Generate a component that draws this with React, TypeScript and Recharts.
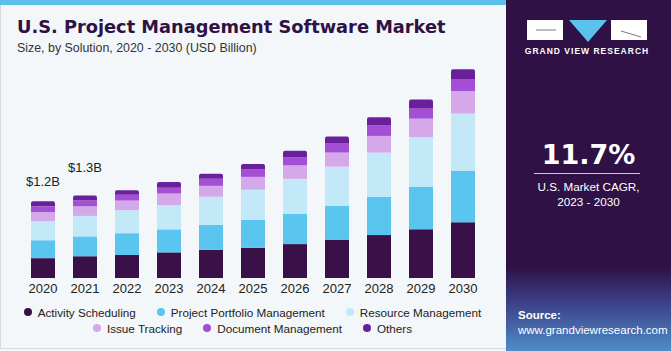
import React from 'react';
import { BarChart, Bar, XAxis, YAxis, Legend, LabelList } from 'recharts';

const years = ['2020', '2021', '2022', '2023', '2024', '2025', '2026', '2027', '2028', '2029', '2030'];

const activityScheduling = [0.31, 0.34, 0.36, 0.4, 0.44, 0.47, 0.53, 0.6, 0.67, 0.76, 0.87];
const projectPortfolio = [0.28, 0.31, 0.34, 0.36, 0.39, 0.44, 0.47, 0.53, 0.6, 0.66, 0.8];
const resourceManagement = [0.3, 0.32, 0.36, 0.38, 0.44, 0.47, 0.55, 0.61, 0.69, 0.78, 0.9];
const issueTracking = [0.14, 0.15, 0.15, 0.18, 0.17, 0.2, 0.21, 0.22, 0.26, 0.29, 0.35];
const documentManagement = [0.09, 0.09, 0.09, 0.09, 0.11, 0.12, 0.13, 0.15, 0.17, 0.16, 0.19];
const others = [0.08, 0.08, 0.07, 0.09, 0.08, 0.08, 0.1, 0.1, 0.12, 0.14, 0.15];

const totalLabels = ['$1.2B', '$1.3B'];
const labelLift = [15, 23];

const series = [
  { key: 'as', name: 'Activity Scheduling', color: '#3a1049' },
  { key: 'ppm', name: 'Project Portfolio Management', color: '#5ac6ef' },
  { key: 'rm', name: 'Resource Management', color: '#c3e9f9' },
  { key: 'it', name: 'Issue Tracking', color: '#d5a8ea' },
  { key: 'dm', name: 'Document Management', color: '#a34fd5' },
  { key: 'oth', name: 'Others', color: '#6a1f9b' },
];

const data = years.map((year, i) => ({
  year,
  as: activityScheduling[i],
  ppm: projectPortfolio[i],
  rm: resourceManagement[i],
  it: issueTracking[i],
  dm: documentManagement[i],
  oth: others[i],
}));

const font = '"Liberation Sans", Arial, sans-serif';
const heavy = '"DejaVu Sans", "Liberation Sans", sans-serif';

function TotalLabel(props: any) {
  const { x, y, width, index } = props;
  if (index >= totalLabels.length) return null;
  return (
    <text
      x={x + width / 2}
      y={y - labelLift[index]}
      textAnchor="middle"
      fontSize={13}
      fill="#222"
      fontFamily={font}
    >
      {totalLabels[index]}
    </text>
  );
}

function LegendRows() {
  const rows = [series.slice(0, 3), series.slice(3)];
  return (
    <div style={{ fontFamily: font, fontSize: 11.7, color: '#222' }}>
      {rows.map((row, r) => (
        <div key={r} style={{ display: 'flex', justifyContent: 'center', gap: 21, height: 16, alignItems: 'center' }}>
          {row.map((s) => (
            <div key={s.key} style={{ display: 'flex', alignItems: 'center' }}>
              <span
                style={{
                  width: 8,
                  height: 8,
                  borderRadius: 4,
                  background: s.color,
                  display: 'inline-block',
                  marginRight: 6,
                }}
              />
              {s.name}
            </div>
          ))}
        </div>
      ))}
    </div>
  );
}

function SidePanel() {
  return (
    <div
      style={{
        position: 'absolute',
        left: 506,
        top: 0,
        width: 165,
        height: 351,
        background: 'linear-gradient(180deg, #2f1145 0%, #2f1145 76%, #3b3f86 86%, #4f8cc9 100%)',
        fontFamily: font,
        color: '#fff',
      }}
    >
      <svg width={165} height={60} style={{ position: 'absolute', left: 0, top: 0 }}>
        <rect x={21} y={20} width={36} height={20} fill="#fff" />
        <polygon points="63,20 101,20 82,42" fill="#5bc2ee" />
        <rect x={105} y={20} width={36} height={20} fill="#fff" />
        <line x1={30} y1={30} x2={50} y2={30} stroke="#555" strokeWidth={0.8} />
        <line x1={115} y1={31} x2={135} y2={37} stroke="#555" strokeWidth={0.8} />
        <text x={81} y={54} textAnchor="middle" fontSize={8.5} fontWeight="bold" letterSpacing={1} fill="#fff" fontFamily={font}>
          GRAND VIEW RESEARCH
        </text>
      </svg>
      <div
        style={{
          position: 'absolute',
          top: 139,
          width: '100%',
          textAlign: 'center',
          fontSize: 27,
          fontWeight: 'bold',
          fontFamily: heavy,
        }}
      >
        11.7%
      </div>
      <div style={{ position: 'absolute', left: 28, top: 173, width: 106, height: 1, background: '#cfc6dc' }} />
      <div style={{ position: 'absolute', top: 179, width: '100%', textAlign: 'center', fontSize: 11.7, lineHeight: '15px' }}>
        U.S. Market CAGR,
        <br />
        2023 - 2030
      </div>
      <div style={{ position: 'absolute', left: 12, top: 308, fontSize: 11.5, lineHeight: '15px' }}>
        <b>Source:</b>
        <br />
        www.grandviewresearch.com
      </div>
    </div>
  );
}

export default function App() {
  return (
    <div style={{ position: 'relative', width: 671, height: 351, background: '#f3f7fa', overflow: 'hidden' }}>
      <style>{'body{margin:0}'}</style>
      <div style={{ position: 'absolute', left: 0, top: 0, width: 506, height: 5, background: '#5bc0eb' }} />
      <div style={{ position: 'absolute', left: 0, top: 5, width: 1, height: 343, background: '#d6dadd' }} />
      <div style={{ position: 'absolute', left: 0, top: 348, width: 506, height: 1, background: '#d6dadd' }} />
      <div
        style={{
          position: 'absolute',
          left: 17,
          top: 16,
          fontFamily: heavy,
          fontWeight: 'bold',
          fontSize: 17.8,
          color: '#2f1145',
          whiteSpace: 'nowrap',
        }}
      >
        U.S. Project Management Software Market
      </div>
      <div style={{ position: 'absolute', left: 17, top: 41, fontFamily: font, fontSize: 12.4, color: '#333' }}>
        Size, by Solution, 2020 - 2030 (USD Billion)
      </div>
      <div style={{ position: 'absolute', left: 0, top: 0 }}>
        <BarChart width={505} height={351} data={data} margin={{ top: 54, right: 21, bottom: 11, left: 22 }}>
          <XAxis
            dataKey="year"
            axisLine={false}
            tickLine={false}
            tickSize={4}
            interval={0}
            tick={{ fontSize: 13, fill: '#222', fontFamily: font }}
          />
          <YAxis hide domain={[0, 3.5]} />
          {series.map((s, i) => (
            <Bar
              key={s.key}
              dataKey={s.key}
              name={s.name}
              stackId="a"
              fill={s.color}
              barSize={24}
              isAnimationActive={false}
              radius={i === series.length - 1 ? [2, 2, 0, 0] : 0}
            >
              {i === series.length - 1 && <LabelList dataKey="oth" content={TotalLabel} />}
            </Bar>
          ))}
          <Legend content={LegendRows} wrapperStyle={{ top: 304, left: 0, width: 505 }} />
        </BarChart>
      </div>
      <SidePanel />
    </div>
  );
}
